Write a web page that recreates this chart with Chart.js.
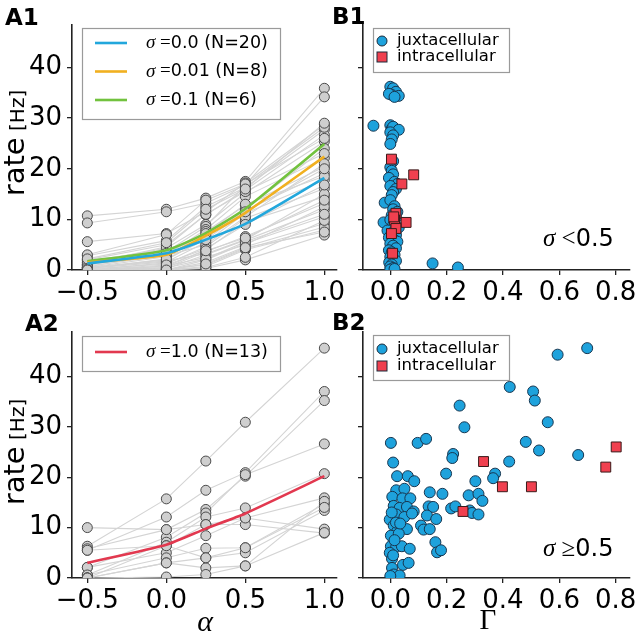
<!DOCTYPE html>
<html>
<head>
<meta charset="utf-8">
<script src="https://cdn.jsdelivr.net/npm/chart.js"></script>
<style>
body{margin:0;background:#fff;width:640px;height:640px;overflow:hidden;position:relative}
canvas{position:absolute;left:0;top:0}
</style>
</head>
<body>
<canvas id="a1" width="640" height="640"></canvas>
<canvas id="b1" width="640" height="640"></canvas>
<canvas id="a2" width="640" height="640"></canvas>
<canvas id="b2" width="640" height="640"></canvas>
<script>
// ================= Data =================
const alphaVals = [-0.5, 0, 0.25, 0.5, 1.0];
const alphaTicks = [-0.5, 0, 0.5, 1.0];
const gammaTicks = [0, 0.2, 0.4, 0.6, 0.8];
const rateTicks = [0, 10, 20, 30, 40];

// A1: single neurons, sigma < 0.5 (rate at each alpha)
const ratesA1 = [
  [10.7, 12.0, 14.2, 17.5, 35.9], [9.3, 11.5, 13.2, 16.8, 34.2], [5.6, 7.2, 11.5, 17.2, 28.7],
  [2.8, 5.8, 12.5, 16.3, 27.7], [2.0, 5.0, 10.9, 15.8, 26.7], [1.5, 4.3, 9.0, 15.2, 25.4],
  [1.0, 3.6, 8.6, 16.8, 28.2], [1.0, 3.0, 8.0, 14.5, 22.1], [0.5, 2.6, 7.6, 12.8, 20.4],
  [0.5, 2.0, 6.3, 11.8, 19.1], [0.3, 1.6, 5.5, 11.2, 17.8], [0.2, 1.2, 4.6, 10.2, 16.1],
  [0, 0.7, 4.0, 9.5, 14.5], [0, 0.5, 3.6, 6.6, 13.2], [0, 0.3, 3.0, 5.9, 11.9],
  [0, 0, 2.0, 5.3, 10.5], [0, 0, 1.5, 4.6, 9.2], [0, 0, 0.7, 4.0, 7.9],
  [0, 0, 0.3, 2.0, 6.9], [1.8, 4.0, 6.8, 12.0, 24.0], [0.8, 2.8, 5.0, 10.5, 21.0],
  [0.4, 1.8, 3.2, 6.0, 15.0], [0, 0.8, 2.5, 5.0, 12.5], [0, 0.2, 1.0, 4.2, 8.5],
  [0, 0, 0.5, 2.5, 9.8], [3.0, 7.0, 13.8, 17.0, 26.0], [1.2, 4.6, 11.0, 15.5, 23.0],
  [0.6, 3.3, 7.2, 13.0, 18.5], [0, 1.4, 4.2, 9.0, 16.8], [0, 0.4, 2.2, 5.6, 11.0],
  [2.2, 5.4, 12.0, 16.0, 29.0], [0.2, 2.2, 6.0, 11.5, 20.0], [0, 1.0, 3.8, 6.3, 13.8],
  [0, 0, 1.2, 4.4, 7.5]
];
const meanSigma0 = [1.3, 3.3, 6.0, 9.1, 18.2];
const meanSigma001 = [1.5, 3.0, 6.8, 11.3, 22.4];
const meanSigma01 = [1.7, 3.9, 7.3, 12.1, 24.9];
const sigmaLabelsA1 = ['0.0', '0.01', '0.1'];
const countsA1 = [20, 8, 6];

// A2: single neurons, sigma = 1.0
const ratesA2 = [
  [6.3, 15.7, 23.2, 30.9, 45.6], [5.5, 12.1, 17.4, 20.9, 37.0], [5.8, 9.6, 13.6, 20.2, 35.2],
  [2.1, 8.1, 12.9, 20.5, 26.6], [0.6, 7.1, 12.1, 13.9, 20.7], [10.0, 9.6, 10.6, 11.9, 9.7],
  [5.5, 6.4, 10.6, 10.6, 8.9], [2.1, 5.0, 8.4, 11.9, 15.9], [0.6, 4.0, 5.9, 6.0, 14.7],
  [0.0, 3.0, 4.0, 5.0, 13.4], [0.0, 3.0, 2.0, 2.4, 15.2], [0.0, 0.2, 0.7, 2.4, 9.0],
  [0.0, 6.4, 4.0, 6.0, 14.0]
];
const meanSigma1 = [3.0, 6.6, 9.8, 12.8, 20.2];
const sigmaLabelsA2 = ['1.0'];
const countsA2 = [13];

// B1: [Gamma, rate], sigma < 0.5
const juxtaB1 = [
  [0.0,36.2],[0.01,35.9],[0.02,35.2],[0.005,34.6],[0.03,34.4],[-0.005,34.8],[0.015,34.2],
  [-0.06,28.5],[0.0,28.6],[0.005,27.9],[0.01,28.3],[0.03,27.7],[0.0,27.2],[0.01,26.6],[0.005,25.8],[0.0,24.9],
  [0.01,21.5],[0.0,20.3],[0.005,19.6],[0.01,18.9],[-0.005,18.2],[0.015,17.4],[0.025,17.0],[0.0,16.6],
  [0.02,16.0],[0.01,15.4],[0.005,14.8],[-0.02,13.3],[0.0,13.8],[0.015,12.6],[0.01,12.0],[0.025,11.5],
  [0.005,10.8],[-0.024,9.4],[0.0,9.9],[0.02,10.3],[0.01,8.8],[0.03,8.4],[-0.01,7.8],[0.005,7.3],
  [0.02,6.9],[-0.005,6.4],[0.015,5.9],[0.025,5.6],[0.0,5.2],[0.01,4.8],[0.02,4.3],[-0.005,3.9],
  [0.005,3.5],[0.015,3.0],[0.0,2.6],[0.01,2.2],[0.02,1.8],[-0.004,1.5],[0.005,1.1],[0.0,0.7],
  [0.01,0.4],[0.0,0.1],[0.015,0.2],[0.15,1.3],[0.24,0.5]
];
const intraB1 = [
  [0.004,21.9],[0.083,18.8],[0.041,17.0],[0.02,11.2],[0.015,9.9],[0.056,9.4],[0.02,8.2],[0.004,7.2],[0.008,3.3],[0.012,10.5]
];

// B2: [Gamma, rate], sigma >= 0.5
const juxtaB2 = [
  [0.699,45.6],[0.594,44.3],[0.424,37.9],[0.507,37.0],[0.513,35.2],[0.246,34.2],[0.263,29.9],[0.559,30.9],
  [0.002,26.8],[0.097,26.8],[0.127,27.6],[0.481,27.0],[0.528,25.3],[0.667,24.4],[0.223,24.6],[0.220,23.8],
  [0.422,23.1],[0.010,22.9],[0.198,20.7],[0.372,20.7],[0.365,19.8],[0.024,20.2],[0.062,20.2],[0.085,19.2],
  [0.302,19.2],[0.140,17.0],[0.185,16.7],[0.278,16.4],[0.313,16.7],[0.327,15.3],[0.021,17.4],[0.050,17.7],
  [0.007,16.1],[0.043,15.8],[0.071,15.8],[0.012,14.3],[0.033,13.9],[0.059,14.1],[0.083,13.2],[0.136,14.2],
  [0.152,14.1],[0.216,13.8],[0.231,14.2],[0.282,13.4],[0.290,12.9],[0.313,12.6],[-0.002,11.6],[0.021,12.6],
  [0.050,12.1],[0.077,12.8],[0.130,12.4],[0.163,11.7],[0.012,10.4],[0.024,9.2],[0.059,9.7],[0.109,10.4],
  [0.118,9.6],[0.140,9.7],[0.002,8.4],[0.030,8.8],[0.160,7.1],[0.002,6.3],[0.021,6.2],[0.041,6.3],
  [0.069,5.8],[0.166,5.1],[0.180,5.5],[-0.002,5.0],[0.006,3.8],[0.045,2.6],[0.065,3.0],[0.006,2.0],
  [0.012,0.7],[0.033,0.5],[0.0,0.4],[0.020,11.0],[0.005,13.0],[0.035,10.8],[0.015,7.5],[0.010,4.5]
];
const intraB2 = [[0.331,23.1],[0.398,18.1],[0.501,18.1],[0.258,13.2],[0.765,22.0],[0.802,26.0]];

// ================= Style =================
const SANS = "'DejaVu Sans', sans-serif";
const SERIF = "'Liberation Serif', 'DejaVu Serif', serif";
const AXIS = '#222';
const GRAY_LINE = '#d4d4d4';
const GRAY_PT = '#cfcfcf';
const MEAN_COLORS = ['#22a7dc', '#f1b020', '#72c23e'];
const RED_MEAN = '#e2384f';
const JUXTA = '#1ea2dc';
const INTRA = '#f0404f';
const Y_W = 62, X_H = 44;

const toXY = row => alphaVals.map((a,i)=>({x:a, y:row[i]}));
const pairXY = arr => arr.map(p=>({x:p[0], y:p[1]}));
const fmt1 = v => (v<0 ? '\u2212' : '') + Math.abs(v).toFixed(1);

function text(ctx, x, y, parts, align){
    let w=0;
    parts.forEach(p=>{ ctx.font=p[1]; w+=ctx.measureText(p[0]).width; });
    let cx = align==='center' ? x-w/2 : x;
    parts.forEach(p=>{ ctx.font=p[1]; ctx.fillText(p[0], cx, y); cx+=ctx.measureText(p[0]).width; });
}
function yTitle(ctx, x, cy){
    ctx.save(); ctx.translate(x, cy); ctx.rotate(-Math.PI/2);
    ctx.fillStyle='#000'; ctx.textBaseline='alphabetic';
    text(ctx, 0, 0, [['rate', '29px '+SANS], [' [Hz]', '20px '+SANS]], 'center');
    ctx.restore();
}
function panelLabel(ctx, s, x, y){
    ctx.fillStyle='#000'; ctx.textBaseline='alphabetic'; ctx.textAlign='left';
    ctx.font='bold 23px '+SANS; ctx.fillText(s, x, y);
}
function legendBox(ctx, x, y, w, h){
    ctx.save();
    ctx.fillStyle='rgba(255,255,255,0.8)'; ctx.fillRect(x, y, w, h);
    ctx.strokeStyle='#9a9a9a'; ctx.lineWidth=1.2; ctx.strokeRect(x+0.5, y+0.5, w, h);
    ctx.restore();
}
function lineLegend(ctx, box, rows){
    legendBox(ctx, box[0], box[1], box[2], box[3]);
    rows.forEach(r=>{
        ctx.strokeStyle=r.color; ctx.lineWidth=2.6;
        ctx.beginPath(); ctx.moveTo(95, r.y); ctx.lineTo(127, r.y); ctx.stroke();
        ctx.fillStyle='#000'; ctx.textBaseline='middle';
        text(ctx, 146, r.y, [['\u03c3', 'italic 19px '+SERIF], [' =', '19px '+SERIF], [r.sigma+' (N='+r.n+')', '17.5px '+SANS]]);
    });
}
function markerLegend(ctx, box, y1, y2){
    legendBox(ctx, box[0], box[1], box[2], box[3]);
    ctx.lineWidth=1; ctx.strokeStyle='#1a2a3a';
    ctx.fillStyle=JUXTA; ctx.beginPath(); ctx.arc(382, y1, 5, 0, Math.PI*2); ctx.fill(); ctx.stroke();
    ctx.fillStyle=INTRA; ctx.fillRect(377, y2-5, 10, 10); ctx.strokeRect(377, y2-5, 10, 10);
    ctx.fillStyle='#000'; ctx.textBaseline='middle'; ctx.font='16.5px '+SANS;
    ctx.fillText('juxtacellular', 397, y1); ctx.fillText('intracellular', 397, y2);
}

function makeChart(id, box, xRange, xTicks, yMax, yLabels, datasets, draw){
    new Chart(document.getElementById(id), {
        type:'scatter',
        data:{datasets},
        options:{
            responsive:false, animation:false, events:[],
            layout:{padding:{left:box.l-Y_W, top:box.t, right:640-box.r, bottom:640-box.b-X_H}},
            plugins:{legend:{display:false}, tooltip:{enabled:false}},
            scales:{
                x:{type:'linear', min:xRange[0], max:xRange[1],
                    afterBuildTicks:s=>{ s.ticks=xTicks.map(v=>({value:v})); },
                    afterFit:s=>{ s.height=X_H; },
                    grid:{drawOnChartArea:false, tickLength:5, color:AXIS, lineWidth:1.3},
                    border:{color:AXIS, width:1.6},
                    ticks:{padding:3, color:'#000', font:{family:SANS, size:26}, callback:v=>fmt1(v), maxRotation:0, autoSkip:false}},
                y:{type:'linear', min:0, max:yMax,
                    afterBuildTicks:s=>{ s.ticks=rateTicks.map(v=>({value:v})); },
                    afterFit:s=>{ s.width=Y_W; },
                    grid:{drawOnChartArea:false, tickLength:5, color:AXIS, lineWidth:1.3},
                    border:{color:AXIS, width:1.6},
                    ticks:{display:yLabels, padding:5, color:'#000', font:{family:SANS, size:26}, callback:v=>String(v)}}
            }
        },
        plugins:[{id:'extras_'+id, afterDraw:c=>{ c.ctx.save(); draw(c.ctx, c); c.ctx.restore(); }}]
    });
}

function alphaDatasets(rates, means, meanColors){
    const sets=[];
    means.forEach((m,i)=>sets.push({data:toXY(m), showLine:true, pointRadius:0, borderColor:meanColors[i], borderWidth:2.6, tension:0.2, order:0}));
    sets.push({data:rates.flatMap(toXY), pointRadius:5, pointBackgroundColor:GRAY_PT, pointBorderColor:'#4a4a4a', pointBorderWidth:1, order:1});
    rates.forEach(r=>sets.push({data:toXY(r), showLine:true, pointRadius:0, borderColor:GRAY_LINE, borderWidth:1.1, order:2}));
    return sets;
}
function gammaDatasets(juxta, intra){
    return [
        {data:pairXY(intra), pointStyle:'rect', pointRadius:7, pointBackgroundColor:INTRA, pointBorderColor:'#3a1a1a', pointBorderWidth:1, order:0},
        {data:pairXY(juxta), pointStyle:'circle', pointRadius:5.5, pointBackgroundColor:JUXTA, pointBorderColor:'#173650', pointBorderWidth:1, order:1}
    ];
}

// ================= A1 =================
makeChart('a1', {l:72, r:337, t:25, b:270}, [-0.597, 1.08], alphaTicks, 48.4, true,
    alphaDatasets(ratesA1, [meanSigma0, meanSigma001, meanSigma01], MEAN_COLORS),
    ctx=>{
        panelLabel(ctx, 'A1', 5, 25);
        yTitle(ctx, 24, 143);
        lineLegend(ctx, [82, 28, 198, 91], sigmaLabelsA1.map((s,i)=>({y:43+i*28.5, color:MEAN_COLORS[i], sigma:s, n:countsA1[i]})));
    });

// ================= B1 =================
makeChart('b1', {l:363, r:630, t:25, b:270}, [-0.097, 0.851], gammaTicks, 48.4, false,
    gammaDatasets(juxtaB1, intraB1),
    ctx=>{
        panelLabel(ctx, 'B1', 332, 24);
        markerLegend(ctx, [373, 28, 136, 44], 41, 57);
        ctx.fillStyle='#000'; ctx.textBaseline='alphabetic';
        text(ctx, 543, 246, [['\u03c3', 'italic 25px '+SERIF], [' <', '25px '+SERIF], ['0.5', '24px '+SANS]]);
    });

// ================= A2 =================
makeChart('a2', {l:72, r:337, t:332, b:578}, [-0.597, 1.08], alphaTicks, 48.8, true,
    alphaDatasets(ratesA2, [meanSigma1], [RED_MEAN]),
    ctx=>{
        panelLabel(ctx, 'A2', 25, 331);
        yTitle(ctx, 24, 452);
        lineLegend(ctx, [82, 336, 198, 35], sigmaLabelsA2.map((s,i)=>({y:352, color:RED_MEAN, sigma:s, n:countsA2[i]})));
        ctx.fillStyle='#000'; ctx.textBaseline='alphabetic';
        text(ctx, 205, 631, [['\u03b1', 'italic 30px '+SERIF]], 'center');
    });

// ================= B2 =================
makeChart('b2', {l:363, r:630, t:332, b:578}, [-0.097, 0.851], gammaTicks, 48.8, false,
    gammaDatasets(juxtaB2, intraB2),
    ctx=>{
        panelLabel(ctx, 'B2', 332, 330);
        markerLegend(ctx, [373, 335, 136, 45], 349, 366);
        ctx.fillStyle='#000'; ctx.textBaseline='alphabetic';
        text(ctx, 543, 556, [['\u03c3', 'italic 25px '+SERIF], [' \u2265', '25px '+SERIF], ['0.5', '24px '+SANS]]);
        text(ctx, 488, 629, [['\u0393', '29px '+SERIF]], 'center');
    });
</script>
</body>
</html>
